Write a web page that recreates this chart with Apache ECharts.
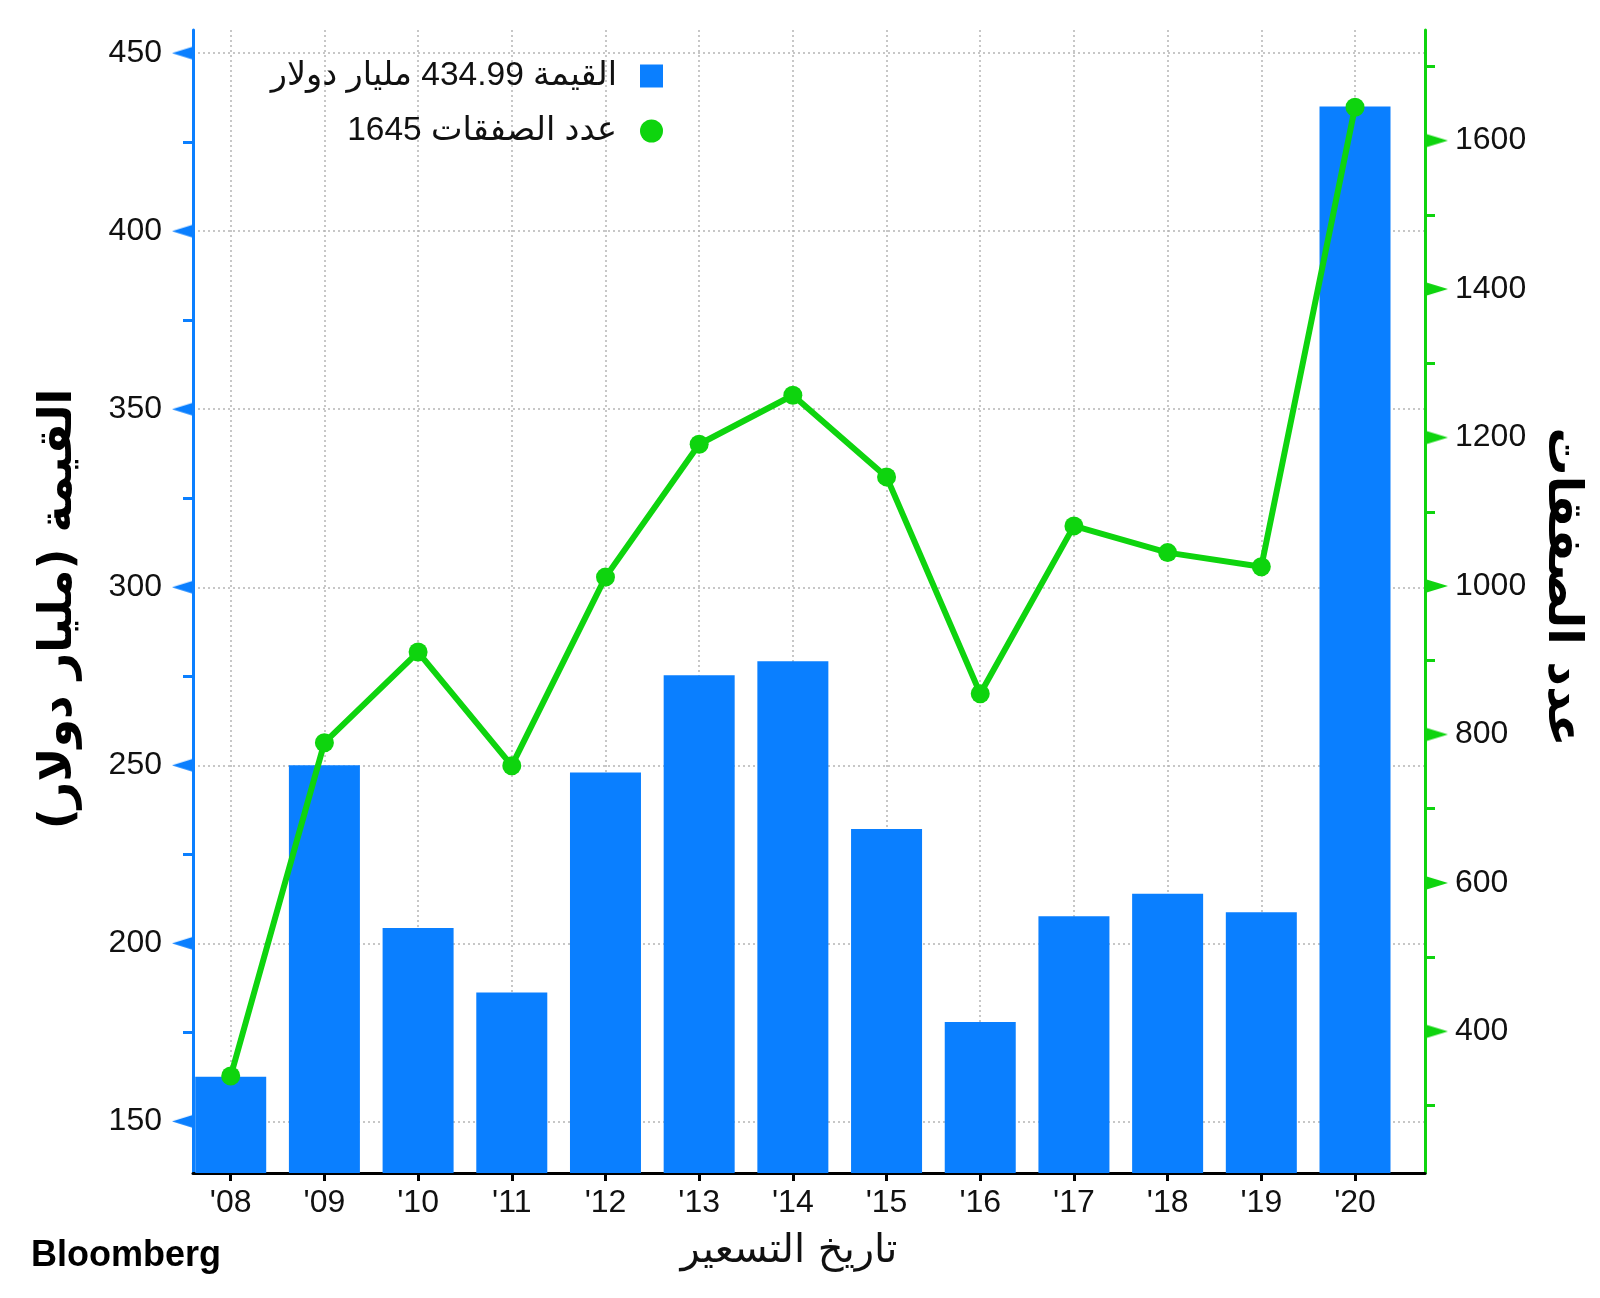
<!DOCTYPE html>
<html><head><meta charset="utf-8">
<script src="https://cdn.jsdelivr.net/npm/echarts@6/dist/echarts.min.js"></script>
<style>html,body{margin:0;padding:0;background:#fff}#c{width:1600px;height:1298px}</style>
</head><body><div id="c"></div>
<script>
const categories = ["'08","'09","'10","'11","'12","'13","'14","'15","'16","'17","'18","'19","'20"];
const valueBn = [162.5, 250.0, 204.3, 186.2, 248.0, 275.3, 279.2, 232.1, 177.9, 207.6, 213.9, 208.7, 434.99];
const dealCount = [340, 789, 911, 758, 1012, 1191, 1257, 1147, 855, 1081, 1045, 1026, 1645];
const leftTicks = [150, 200, 250, 300, 350, 400, 450];
const leftMinorTicks = [150, 175, 200, 225, 250, 275, 300, 325, 350, 375, 400, 425, 450];
const rightTicks = [400, 600, 800, 1000, 1200, 1400, 1600];
const rightMinorTicks = [300, 400, 500, 600, 700, 800, 900, 1000, 1100, 1200, 1300, 1400, 1500, 1600, 1700];
const seriesNames = ['القيمة 434.99 مليار دولار', 'عدد الصفقات 1645'];

const BLUE = '#0a7fff';
const GREEN = '#0ed40e';
const FONT = "'Liberation Sans', Arial, 'DejaVu Sans', sans-serif";

function tri(dir, color, w, h) {
  const c = document.createElement('canvas');
  c.width = w; c.height = h;
  const g = c.getContext('2d');
  g.fillStyle = color;
  g.beginPath();
  if (dir === 'left') { g.moveTo(0, h / 2); g.lineTo(w, 0); g.lineTo(w, h); }
  else { g.moveTo(w, h / 2); g.lineTo(0, 0); g.lineTo(0, h); }
  g.closePath(); g.fill();
  return c;
}
const triL = tri('left', BLUE, 21, 13);
const triR = tri('right', GREEN, 23, 14);

const chart = echarts.init(document.getElementById('c'), null, {renderer: 'canvas'});
const catIdx = categories.map((c, i) => i);

const option = {
  animation: false,
  backgroundColor: '#fff',
  grid: {left: 193, right: 175, top: 30, bottom: 125, containLabel: false},
  legend: {
    orient: 'vertical', right: 932, top: 54, align: 'right',
    itemWidth: 23, itemHeight: 23, itemGap: 21,
    textStyle: {fontSize: 33.5, color: '#111', fontFamily: FONT, padding: [0, 18, 0, 0]},
    data: [{name: seriesNames[0], icon: 'rect'}, {name: seriesNames[1], icon: 'circle'}]
  },
  xAxis: {
    type: 'value', min: -0.4025, max: 12.747,
    axisLine: {onZero: false, lineStyle: {color: '#000', width: 3}},
    axisTick: {show: true, customValues: catIdx, length: 8, lineStyle: {color: '#000', width: 3}},
    axisLabel: {customValues: catIdx, formatter: v => categories[Math.round(v)], fontSize: 32, color: '#111', fontFamily: FONT, margin: 14},
    splitLine: {show: true, lineStyle: {color: '#b5b5b5', type: [2, 3], width: 1.5}}
  },
  yAxis: [
    {
      type: 'value', position: 'left', min: 135.5, max: 456.5,
      axisLine: {show: true, onZero: false, lineStyle: {color: BLUE, width: 3}},
      axisTick: {show: false, customValues: leftTicks},
      axisLabel: {
        customValues: leftTicks, margin: 0,
        formatter: v => '{v|' + v + '}{s|}{t|}',
        rich: {
          v: {fontSize: 32, color: '#111', fontFamily: FONT, verticalAlign: 'middle'},
          s: {width: 10, height: 13},
          t: {width: 21, height: 13, backgroundColor: {image: triL}, verticalAlign: 'middle'}
        }
      },
      splitLine: {show: true, lineStyle: {color: '#b5b5b5', type: [2, 3], width: 1.5}}
    },
    {
      type: 'value', position: 'left', min: 135.5, max: 456.5,
      axisLine: {show: false, onZero: false},
      axisTick: {show: true, customValues: leftMinorTicks, length: 10, lineStyle: {color: BLUE, width: 3}},
      axisLabel: {show: false},
      splitLine: {show: false}
    },
    {
      type: 'value', position: 'right', min: 209.3, max: 1749,
      axisLine: {show: true, onZero: false, lineStyle: {color: GREEN, width: 3}},
      axisTick: {show: true, customValues: rightMinorTicks, length: 10, lineStyle: {color: GREEN, width: 3}},
      axisLabel: {
        customValues: rightTicks, margin: 0,
        formatter: v => '{t|}{s|}{v|' + v + '}',
        rich: {
          v: {fontSize: 32, color: '#111', fontFamily: FONT, verticalAlign: 'middle'},
          s: {width: 7, height: 13},
          t: {width: 23, height: 14, backgroundColor: {image: triR}, verticalAlign: 'middle'}
        }
      },
      splitLine: {show: false}
    }
  ],
  series: [
    {
      name: seriesNames[0], type: 'bar', xAxisIndex: 0, yAxisIndex: 0,
      barWidth: 71, itemStyle: {color: BLUE},
      data: valueBn.map((v, i) => [i, v]), z: 2
    },
    {
      name: seriesNames[1], type: 'line', xAxisIndex: 0, yAxisIndex: 2,
      symbol: 'circle', symbolSize: 19, lineStyle: {color: GREEN, width: 6},
      itemStyle: {color: GREEN},
      data: dealCount.map((v, i) => [i, v]), z: 3
    }
  ],
  graphic: [
    {type: 'text', x: 59, y: 609, rotation: Math.PI / 2,
     style: {text: 'القيمة (مليار دولار)', fontSize: 46, fontWeight: 'bold', fontFamily: "'DejaVu Sans', sans-serif", fill: '#000', align: 'center', verticalAlign: 'middle'}},
    {type: 'text', x: 1561, y: 587, rotation: -Math.PI / 2,
     style: {text: 'عدد الصفقات', fontSize: 48, fontWeight: 'bold', fontFamily: "'DejaVu Sans', sans-serif", fill: '#000', align: 'center', verticalAlign: 'middle'}},
    {type: 'text', x: 789, y: 1252,
     style: {text: 'تاريخ التسعير', fontSize: 40, fontFamily: "'DejaVu Sans', sans-serif", fill: '#111', align: 'center', verticalAlign: 'middle'}},
    {type: 'text', x: 31, y: 1256,
     style: {text: 'Bloomberg', fontSize: 36, fontWeight: 'bold', fontFamily: FONT, fill: '#000', align: 'left', verticalAlign: 'middle'}}
  ]
};
chart.setOption(option);
</script>
</body></html>
